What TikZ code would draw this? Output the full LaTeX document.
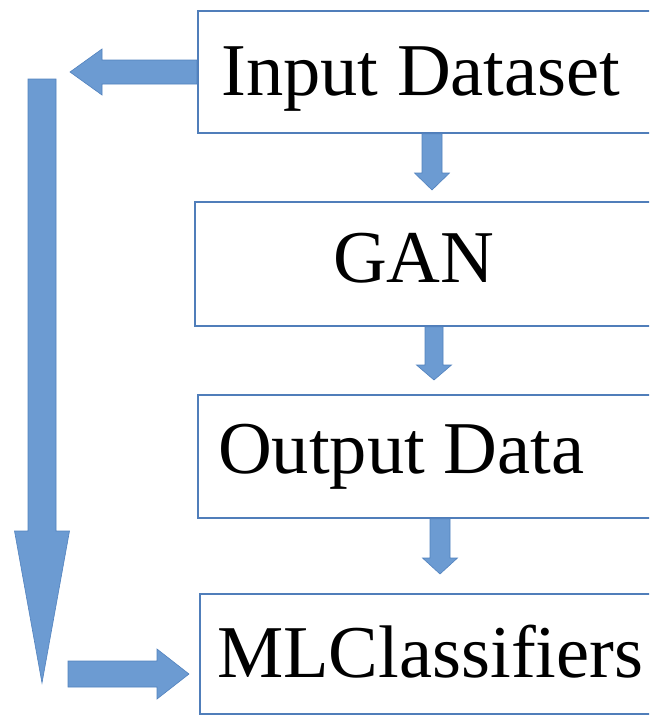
\documentclass[tikz,border=0pt]{standalone}
\usepackage{fontspec}
\setmainfont{Liberation Serif}
\usetikzlibrary{calc}

\definecolor{boxline}{RGB}{80,126,186}
\definecolor{arrfill}{RGB}{108,155,210}
\definecolor{arrline}{RGB}{82,130,190}

% Block arrow from #1 to #2: half shaft width #3, half head width #4, head length #5 (pt)
\newcommand\blockarrow[5]{%
  \path let \p1=#1, \p2=#2,
            \n1={atan2(\y2-\y1,\x2-\x1)},
            \n2={veclen(\x2-\x1,\y2-\y1)} in
    [shift={(\p1)}, rotate=\n1]
    [blockarr]
    (0pt,#3pt) -- (\n2-#5pt,#3pt) -- (\n2-#5pt,#4pt) -- (\n2,0pt)
    -- (\n2-#5pt,-#4pt) -- (\n2-#5pt,-#3pt) -- (0pt,-#3pt) -- cycle;}

\tikzset{
  stage/.style={draw=boxline, line width=1.8pt, rectangle, inner sep=0pt,
                anchor=north west, minimum width=470pt},
  lbl/.style={anchor=base west, inner sep=0pt, font=\fontsize{74.5}{80}\selectfont},
  blockarr/.style={fill=arrfill, draw=arrline, line width=0.6pt, line join=miter},
}

\begin{document}
\begin{tikzpicture}[x=1pt, y=-1pt]
  \useasboundingbox (0,0) rectangle (649,715);
  \clip (0,0) rectangle (649,715);

  % stage boxes, running off the right edge
  \node[stage, minimum height=122pt] (in)  at (197,10)  {};
  \node[stage, minimum height=124pt] (gan) at (194,201) {};
  \node[stage, minimum height=123pt] (out) at (197,394) {};
  \node[stage, minimum height=120pt] (ml)  at (199,593) {};

  % labels
  \node[lbl] (tin)  at (221,95)  {Input Dataset};
  \node[lbl] (tgan) at (333,282) {GAN};
  \node[lbl] (tout) at (218,473) {Output Data};
  \node[lbl] (tml)  at (217,677) {MLClassifiers};

  % helper points for the arrows
  \coordinate (c1) at (432,0);
  \coordinate (c2) at (434,0);
  \coordinate (c3) at (440,0);
  \coordinate (leftTip) at (70,72);
  \coordinate (vTop) at (42,79);
  \coordinate (vTip) at (42,683);
  \coordinate (hStart) at (68,674);
  \coordinate (hTip) at (189,674);
  \coordinate (d1) at (432,190);
  \coordinate (d2) at (434,380);
  \coordinate (d3) at (440,574);

  % pipeline arrows
  \blockarrow{(in.south -| c1)}{(d1)}{10}{17.5}{17}
  \blockarrow{(gan.south -| c2)}{(d2)}{9}{17.5}{15}
  \blockarrow{(out.south -| c3)}{(d3)}{10}{17.5}{16}

  % bypass: input straight to the classifiers
  \blockarrow{(in.west |- leftTip)}{(leftTip)}{12}{23}{32}
  \blockarrow{(vTop)}{(vTip)}{14}{27.5}{152}
  \blockarrow{(hStart)}{(hTip)}{13}{25}{32}
\end{tikzpicture}
\end{document}
